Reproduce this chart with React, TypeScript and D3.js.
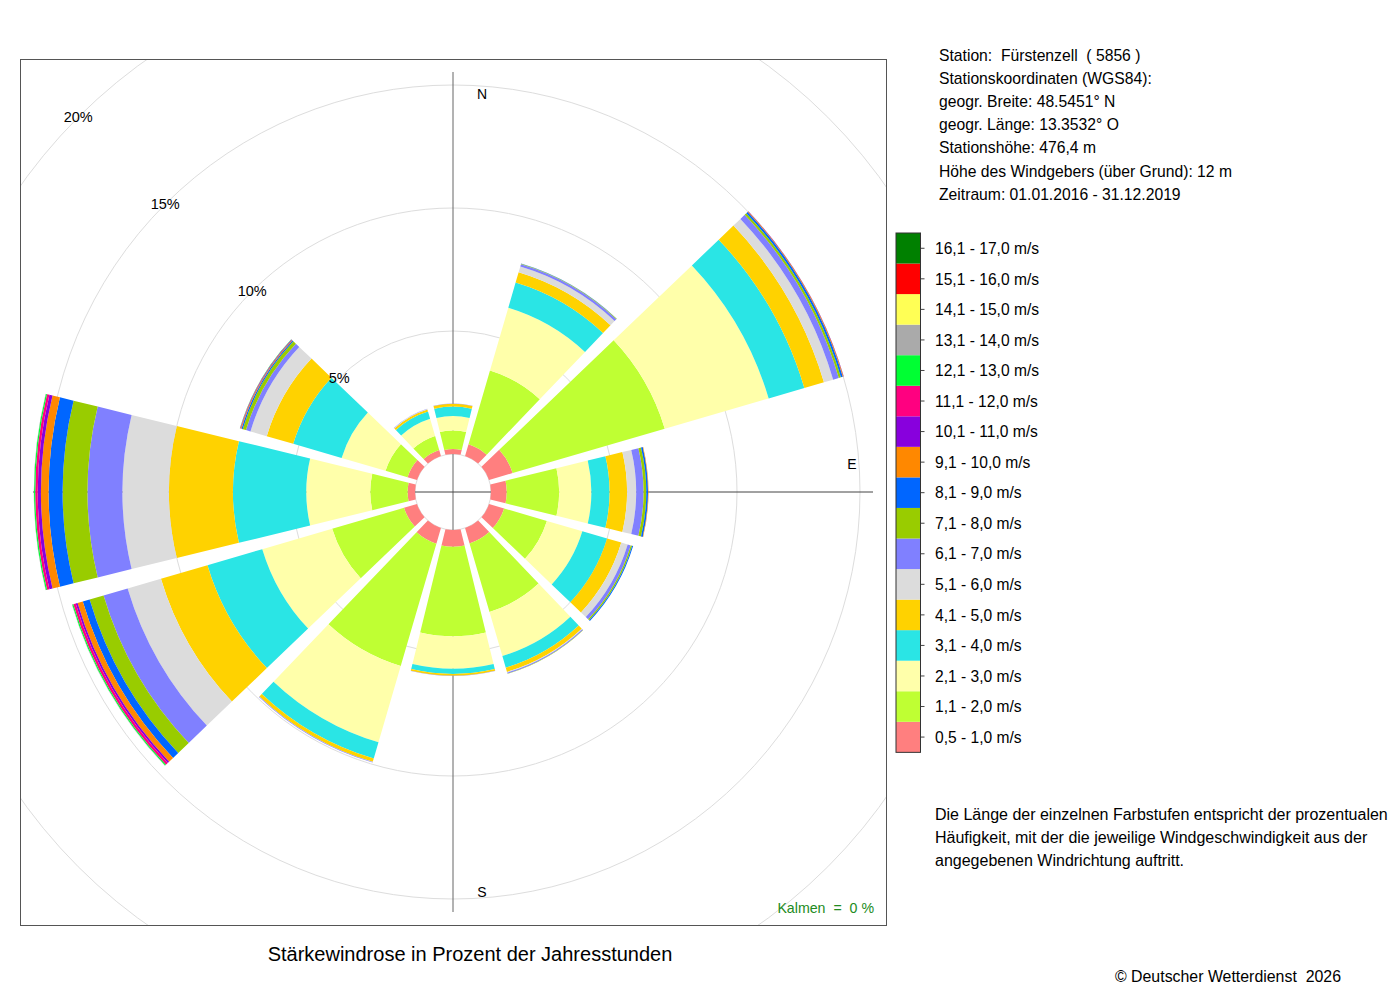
import React from 'react';
import * as d3 from 'd3';

// ---------------- data ----------------
const directions = [0, 30, 60, 90, 120, 150, 180, 210, 240, 270, 300, 330];

const speedClasses = [
  '0,5 - 1,0 m/s', '1,1 - 2,0 m/s', '2,1 - 3,0 m/s', '3,1 - 4,0 m/s', '4,1 - 5,0 m/s',
  '5,1 - 6,0 m/s', '6,1 - 7,0 m/s', '7,1 - 8,0 m/s', '8,1 - 9,0 m/s', '9,1 - 10,0 m/s',
  '10,1 - 11,0 m/s', '11,1 - 12,0 m/s', '12,1 - 13,0 m/s', '13,1 - 14,0 m/s',
  '14,1 - 15,0 m/s', '15,1 - 16,0 m/s', '16,1 - 17,0 m/s',
];

const classColors = [
  '#FF7F7F', '#BFFF33', '#FFFFAA', '#2AE5E5', '#FFD200', '#DCDCDC', '#8080FF', '#99CC00',
  '#0066FF', '#FF8800', '#8800DD', '#FF0080', '#00FF33', '#AAAAAA', '#FFFF55', '#FF0000', '#008000',
];

// frequency (% of hours) per speed class, for directions N, 30, 60, ... 330
const f05_10 = [0.20, 0.50, 1.00, 0.64, 0.64, 0.65, 0.68, 0.66, 0.55, 0.30, 0.40, 0.25];
const f11_20 = [0.75, 3.12, 6.44, 2.13, 1.81, 2.90, 3.64, 5.18, 3.04, 1.52, 0.93, 0.60];
const f21_30 = [0.59, 2.66, 4.40, 1.31, 1.50, 1.87, 1.32, 3.23, 2.96, 2.60, 1.86, 0.72];
const f31_40 = [0.39, 1.06, 1.51, 0.74, 1.05, 0.49, 0.21, 0.69, 2.32, 2.98, 2.05, 0.31];
const f41_50 = [0.11, 0.44, 0.83, 0.71, 0.60, 0.18, 0.07, 0.14, 1.97, 2.60, 1.12, 0.09];
const f51_60 = [0.00, 0.24, 0.39, 0.37, 0.27, 0.03, 0.00, 0.01, 1.41, 1.89, 0.69, 0.02];
const f61_70 = [0.01, 0.10, 0.24, 0.30, 0.13, 0.04, 0.01, 0.02, 1.02, 1.42, 0.19, 0.01];
const f71_80 = [0.00, 0.02, 0.09, 0.11, 0.06, 0.01, 0.00, 0.00, 0.59, 1.01, 0.14, 0.00];
const f81_90 = [0.00, 0.01, 0.08, 0.07, 0.04, 0.00, 0.00, 0.00, 0.29, 0.57, 0.05, 0.00];
const f91_100 = [0.00, 0.00, 0.03, 0.02, 0.00, 0.00, 0.00, 0.00, 0.22, 0.31, 0.03, 0.00];
const f101_110 = [0.00, 0.00, 0.01, 0.00, 0.00, 0.00, 0.00, 0.00, 0.08, 0.13, 0.02, 0.00];
const f111_120 = [0.00, 0.00, 0.00, 0.00, 0.00, 0.00, 0.00, 0.00, 0.10, 0.10, 0.01, 0.00];
const f121_130 = [0.00, 0.00, 0.00, 0.00, 0.00, 0.00, 0.00, 0.00, 0.05, 0.05, 0.01, 0.00];
const f131_140 = [0.00, 0.00, 0.00, 0.00, 0.00, 0.00, 0.00, 0.00, 0.01, 0.01, 0.00, 0.00];
const f141_150 = [0, 0, 0, 0, 0, 0, 0, 0, 0, 0, 0, 0];
const f151_160 = [0, 0, 0, 0, 0, 0, 0, 0, 0, 0, 0, 0];
const f161_170 = [0, 0, 0, 0, 0, 0, 0, 0, 0, 0, 0, 0];

const frequencies = [
  f05_10, f11_20, f21_30, f31_40, f41_50, f51_60, f61_70, f71_80, f81_90,
  f91_100, f101_110, f111_120, f121_130, f131_140, f141_150, f151_160, f161_170,
];

const percentTicks = [5, 10, 15, 20];
const gridCircles = [0, 5, 10, 15, 20, 25];

const stationInfo = [
  'Station:  Fürstenzell  ( 5856 )',
  'Stationskoordinaten (WGS84):',
  'geogr. Breite: 48.5451° N',
  'geogr. Länge: 13.3532° O',
  'Stationshöhe: 476,4 m',
  'Höhe des Windgebers (über Grund): 12 m',
  'Zeitraum: 01.01.2016 - 31.12.2019',
];

const description = [
  'Die Länge der einzelnen Farbstufen entspricht der prozentualen',
  'Häufigkeit, mit der die jeweilige Windgeschwindigkeit aus der',
  'angegebenen Windrichtung auftritt.',
];

const title = 'Stärkewindrose in Prozent der Jahresstunden';
const copyright = '© Deutscher Wetterdienst  2026';
const calmText = 'Kalmen  =  0 %';

// ---------------- layout ----------------
const FONT = '"Liberation Sans", Arial, Helvetica, sans-serif';
const box = { x0: 20, y0: 59, x1: 886, y1: 925 };
const cx = 453;
const cy = 492;

export default function App() {
  const r = d3.scaleLinear().domain([0, 20]).range([38, 530]);
  const arc = d3.arc<any>().padAngle(0.03).padRadius(100);
  const half = (13.75 * Math.PI) / 180;

  const sectors: React.ReactNode[] = [];
  directions.forEach((deg, i) => {
    let cum = 0;
    const a = (deg * Math.PI) / 180;
    frequencies.forEach((vals, k) => {
      const v = vals[i];
      if (!(v > 0)) return;
      const inner = r(cum);
      cum += v;
      const outer = r(cum);
      const d = arc({ innerRadius: inner, outerRadius: outer, startAngle: a - half, endAngle: a + half });
      sectors.push(<path key={`s${i}-${k}`} d={d || ''} fill={classColors[k]} />);
    });
  });

  const axisLen = 420;
  const legendX = 896;
  const legendW = 24.5;
  const legendTop = 233;
  const cellH = 30.55;
  const nCls = speedClasses.length;

  return (
    <svg width={1400} height={1000} style={{ position: 'absolute', left: 0, top: 0, background: '#fff' }}
      fontFamily={FONT}>
      <defs>
        <clipPath id="plotclip">
          <rect x={box.x0} y={box.y0} width={box.x1 - box.x0} height={box.y1 - box.y0} />
        </clipPath>
      </defs>
      <rect x={0} y={0} width={1400} height={1000} fill="#fff" />

      {/* grid circles */}
      <g clipPath="url(#plotclip)">
        {gridCircles.map((p) => (
          <circle key={p} cx={cx} cy={cy} r={r(p)} fill="none" stroke="#DDDDDD" strokeWidth={1} />
        ))}
      </g>

      {/* axes */}
      <line x1={cx} x2={cx} y1={cy - axisLen} y2={cy + axisLen} stroke="#666" strokeWidth={1} />
      <line x1={cx - axisLen} x2={cx + axisLen} y1={cy} y2={cy} stroke="#444" strokeWidth={1} />

      {/* sectors */}
      <g transform={`translate(${cx},${cy})`}>{sectors}</g>

      {/* plot box */}
      <rect x={box.x0 + 0.5} y={box.y0 + 0.5} width={box.x1 - box.x0} height={box.y1 - box.y0}
        fill="none" stroke="#555" strokeWidth={1} />

      {/* direction labels */}
      <text x={cx + 29} y={cy - 393} fontSize={14} textAnchor="middle">N</text>
      <text x={cx + 399} y={cy - 23} fontSize={14} textAnchor="middle">E</text>
      <text x={cx + 29} y={cy + 405} fontSize={14} textAnchor="middle">S</text>

      {/* percent labels along NW diagonal */}
      {percentTicks.map((p) => {
        const d = r(p) * Math.SQRT1_2;
        return (
          <text key={p} x={cx - d} y={cy - d + 5} fontSize={14.5} textAnchor="middle">{`${p}%`}</text>
        );
      })}

      <text x={box.x1 - 12} y={913} fontSize={14.2} textAnchor="end" fill="#228B22"
        style={{ whiteSpace: 'pre' }}>{calmText}</text>

      {/* title */}
      <text x={470} y={961} fontSize={20} textAnchor="middle">{title}</text>

      {/* station info */}
      {stationInfo.map((t, i) => (
        <text key={i} x={939} y={60.5 + i * 23.2} fontSize={15.7} style={{ whiteSpace: 'pre' }}>{t}</text>
      ))}

      {/* legend */}
      {speedClasses.map((lab, k) => {
        const row = nCls - 1 - k;
        const y = legendTop + row * cellH;
        return (
          <g key={lab}>
            <rect x={legendX} y={y} width={legendW} height={cellH} fill={classColors[k]} />
            <line x1={legendX + legendW} x2={legendX + legendW + 4} y1={y + cellH / 2} y2={y + cellH / 2}
              stroke="#444" strokeWidth={1} />
            <text x={935} y={y + cellH / 2 + 5.7} fontSize={15.6}>{lab}</text>
          </g>
        );
      })}
      <rect x={legendX} y={legendTop} width={legendW} height={cellH * nCls} fill="none" stroke="#333" strokeWidth={1} />

      {/* description */}
      {description.map((t, i) => (
        <text key={i} x={935} y={819.5 + i * 23} fontSize={16}>{t}</text>
      ))}

      <text x={1341} y={982} fontSize={15.9} textAnchor="end" style={{ whiteSpace: 'pre' }}>{copyright}</text>
    </svg>
  );
}
